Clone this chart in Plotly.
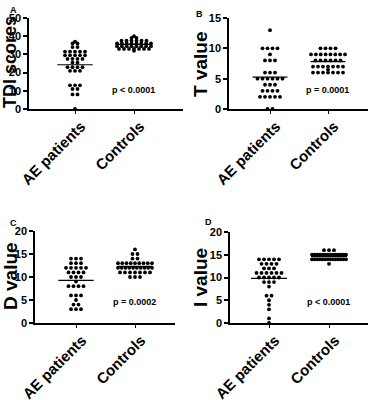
import plotly.graph_objects as go
from collections import Counter

FONT = "Arial, Liberation Sans, sans-serif"

categories = ["AE patients", "Controls"]

# Panel A: TDI scores
tdi_ae = [37, 36, 36, 34, 34, 31.5, 31.5, 31.5, 31.5, 31.5, 29.5, 29.5, 29.5, 29.5, 29.5,
          27.5, 27.5, 27.5, 27.5, 25.5, 25.5, 23, 23, 23, 23, 21, 21, 21,
          13, 13, 13, 11, 11, 8, 8, 0]
tdi_ctrl = [40, 39, 39, 37.5, 37.5, 37.5, 37.5, 37.5, 37.5,
            36, 36, 36, 36, 36, 36, 36, 36,
            34.5, 34.5, 34.5, 34.5, 34.5, 34.5, 34.5, 34.5,
            33, 33, 33, 33, 33, 33, 33, 32]
# Panel B: T value
t_ae = [13, 10, 10, 10, 10, 9, 8, 8, 8, 6, 6, 6, 5, 5, 5, 5, 5, 5,
        4, 4, 4, 3, 3, 3, 3, 2, 2, 2, 2, 2, 0, 0]
t_ctrl = [10, 10, 10, 10, 9, 9, 9, 9, 9, 9, 9, 9, 8, 8, 8, 8, 8, 8,
          7, 7, 7, 7, 7, 7, 7, 6.5, 6, 6, 6, 6, 6, 6, 6]
# Panel C: D value
d_ae = [14, 14, 14, 13, 13, 13, 12, 12, 12, 12, 12, 11, 11, 11, 11, 10, 10, 10,
        9, 8, 8, 8, 8, 6, 6, 6, 5, 4, 4, 3, 3, 3]
d_ctrl = [16, 15, 15, 14, 14, 13, 13, 13, 13, 13, 13, 13, 13, 13,
          12, 12, 12, 12, 12, 12, 12, 12, 12, 12, 11, 11, 11, 11, 11, 11, 11,
          10, 10, 10]
# Panel D: I value
i_ae = [14, 14, 14, 14, 14, 13, 13, 13, 13, 12, 12, 12, 11, 11, 11, 11, 11, 11,
        10, 10, 10, 10, 10, 9, 9, 9, 8, 6, 6, 5, 4, 3, 1, 0]
i_ctrl = [16, 16, 16] + [15] * 14 + [14] * 14 + [13]

p_texts = ["p < 0.0001", "p = 0.0001", "p = 0.0002", "p < 0.0001"]
y_titles = ["TDI scores", "T value", "D value", "I value"]
letters = ["A", "B", "C", "D"]
y_ticks = [[0, 10, 20, 30, 40, 50], [0, 5, 10, 15], [0, 5, 10, 15, 20], [0, 5, 10, 15, 20]]
series = [(tdi_ae, tdi_ctrl), (t_ae, t_ctrl), (d_ae, d_ctrl), (i_ae, i_ctrl)]

W, H = 371, 400
# panel pixel geometry: (x_axis_left, x_axis_right, cat0_px, cat1_px, y_top_px, y_bottom_px)
geo = [
    (29, 183, 75, 134, 18, 109),
    (229, 368, 270, 328, 18, 109),
    (35, 175, 76, 135, 231, 323),
    (230, 368, 269, 329, 232, 323),
]
title_pos = [(10, 62), (200, 64), (10, 276), (200, 277)]
title_size = [18, 19, 19, 19]
letter_pos = [(13, 10), (200, 14), (13, 223), (208, 222)]
p_pos = [(133, 90), (327, 90), (134, 302), (328, 302)]


def swarm(vals, center, unit_px):
    cnt = Counter(vals)
    seen = Counter()
    xs = []
    step = 5.0 / unit_px
    maxw = 34.0 / unit_px
    for v in vals:
        k = cnt[v]
        s = step if k <= 1 else min(step, maxw / (k - 1))
        i = seen[v]
        seen[v] += 1
        xs.append(center + (i - (k - 1) / 2) * s)
    return xs


fig = go.Figure()
layout = {}
annotations = []
for idx in range(4):
    xl, xr, c0, c1, yt, yb = geo[idx]
    unit = c1 - c0
    xmin = -(c0 - xl) / unit
    xmax = xmin + (xr - xl) / unit
    n = idx + 1
    xa = "x" if n == 1 else f"x{n}"
    ya = "y" if n == 1 else f"y{n}"
    for ci, vals in enumerate(series[idx]):
        xs = swarm(vals, ci, unit)
        fig.add_trace(go.Scatter(x=xs, y=vals, mode="markers", xaxis=xa, yaxis=ya,
                                 marker=dict(size=3.8, color="black"),
                                 cliponaxis=False, showlegend=False, hoverinfo="skip"))
        m = sum(vals) / len(vals)
        fig.add_trace(go.Scatter(x=[ci - 0.3, ci + 0.3], y=[m, m], mode="lines",
                                 xaxis=xa, yaxis=ya, line=dict(color="black", width=1.2),
                                 cliponaxis=False, showlegend=False, hoverinfo="skip"))
    yt_vals = y_ticks[idx]
    layout[f"xaxis{'' if n == 1 else n}"] = dict(
        domain=[xl / W, xr / W], range=[xmin, xmax], anchor=ya, automargin=False,
        showline=True, linecolor="black", linewidth=1.5, showgrid=False, zeroline=False,
        tickmode="array", tickvals=[0, 1], ticktext=categories, tickangle=-45,
        ticks="outside", ticklen=3, tickwidth=1, tickcolor="black",
        ticklabelshift=6, ticklabelstandoff=-2,
        tickfont=dict(family=FONT, size=15, color="black", weight="bold"))
    layout[f"yaxis{'' if n == 1 else n}"] = dict(
        domain=[1 - yb / H, 1 - yt / H], range=[0, yt_vals[-1]], anchor=xa, automargin=False,
        showline=True, linecolor="black", linewidth=1.5, showgrid=False, zeroline=False,
        tickmode="array", tickvals=yt_vals, ticks="outside", ticklen=4, tickwidth=1.5,
        tickcolor="black", tickfont=dict(family=FONT, size=11, color="black", weight="bold"))
    tx, ty = title_pos[idx]
    annotations.append(dict(text=y_titles[idx], x=tx / W, y=1 - ty / H, xref="paper", yref="paper",
                            textangle=-90, showarrow=False, xanchor="center", yanchor="middle",
                            font=dict(family=FONT, size=title_size[idx], color="black", weight="bold")))
    lx, ly = letter_pos[idx]
    annotations.append(dict(text=letters[idx], x=lx / W, y=1 - ly / H, xref="paper", yref="paper",
                            showarrow=False, xanchor="center", yanchor="middle",
                            font=dict(family=FONT, size=9, color="black", weight="bold")))
    px_, py_ = p_pos[idx]
    annotations.append(dict(text=p_texts[idx], x=px_ / W, y=1 - py_ / H, xref="paper", yref="paper",
                            showarrow=False, xanchor="center", yanchor="middle",
                            font=dict(family=FONT, size=9, color="black", weight="bold")))

fig.update_layout(width=W, height=H, margin=dict(l=0, r=0, t=0, b=0, autoexpand=False),
                  paper_bgcolor="white", plot_bgcolor="white", template="none",
                  annotations=annotations, **layout)
fig.write_html("out.html", config={"displayModeBar": False},
               post_script="document.body.style.margin='0';document.body.style.overflow='hidden';")
